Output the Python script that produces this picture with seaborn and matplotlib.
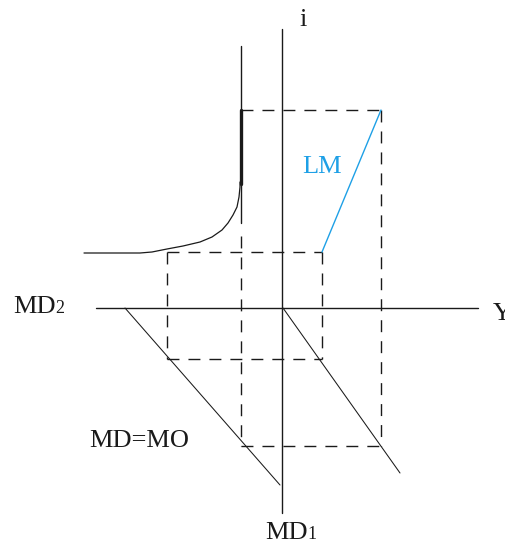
import numpy as np
import pandas as pd
import matplotlib
matplotlib.use("Agg")
import matplotlib.pyplot as plt
import seaborn as sns

# ---- data (origin at axis intersection, units in diagram units) ----
i_levels = [56, 198]          # i_low, i_high
Y_levels = [40, 99]           # Y_low, Y_high
MD2_levels = [-115, -41]      # speculative demand at i_low, i_high
MD1_levels = [-51, -138]      # transaction demand at Y_low, Y_high

# liquidity-preference curve (MD2 quadrant)
lp_x = [-198, -142, -130, -115, -99, -82, -70, -60, -54, -49, -45, -43, -42, -42]
lp_y = [55, 55, 56, 59, 62, 66, 71, 78, 85, 93, 101, 111, 121, 126]
trap_x = [-41, -41]
trap_y = [262, 85]
trap_thick_y = [198, 124]

# MD = MO line and MD1 line
mdmo_x = [-157, -2]
mdmo_y = [0, -177]
md1_x = [1, 118]
md1_y = [0, -165]

# LM curve
lm_x = [Y_levels[0], Y_levels[1]]
lm_y = [i_levels[0], i_levels[1]]

# axes extents
vaxis_y = [279, -205]
haxis_x = [-186, 196]

sns.set_theme(style="white")
plt.rcParams['font.family'] = ['Liberation Serif', 'DejaVu Serif']

fig = plt.figure(figsize=(5.05, 5.48), dpi=100)
ax = fig.add_axes([0, 0, 1, 1])
ax.set_xlim(-282, 223)
ax.set_ylim(-240, 308)
ax.axis("off")

black = "#1a1a1a"
dash = (0, (8.6, 6.5))

def seg(xs, ys, **kw):
    sns.lineplot(x=xs, y=ys, sort=False, estimator=None, ax=ax, **kw)

# axes
seg([0, 0], vaxis_y, color=black, linewidth=1.0)
seg(haxis_x, [0, 0], color=black, linewidth=1.0)

# liquidity preference
seg(lp_x, lp_y, color=black, linewidth=0.9)
seg(trap_x, trap_y, color=black, linewidth=1.0)
seg(trap_x, trap_thick_y, color=black, linewidth=2.4)

# diagonals
seg(mdmo_x, mdmo_y, color=black, linewidth=0.75)
seg(md1_x, md1_y, color=black, linewidth=0.75)

# dashed guides
seg([MD2_levels[1], Y_levels[1]], [i_levels[1], i_levels[1]], color=black, linewidth=1.0, linestyle=dash)
seg([Y_levels[1], Y_levels[1]], [i_levels[1], MD1_levels[1]], color=black, linewidth=1.0, linestyle=dash)
seg([MD2_levels[0], Y_levels[0]], [i_levels[0], i_levels[0]], color=black, linewidth=1.0, linestyle=dash)
seg([MD2_levels[0], MD2_levels[0]], [i_levels[0], MD1_levels[0]], color=black, linewidth=1.0, linestyle=dash)
seg([Y_levels[0], Y_levels[0]], [i_levels[0], MD1_levels[0]], color=black, linewidth=1.0, linestyle=dash)
seg([MD2_levels[0], Y_levels[0]], [MD1_levels[0], MD1_levels[0]], color=black, linewidth=1.0, linestyle=dash)
seg([MD2_levels[1], MD2_levels[1]], [72, MD1_levels[1]], color=black, linewidth=1.0, linestyle=dash)
seg([MD2_levels[1], Y_levels[1]], [MD1_levels[1], MD1_levels[1]], color=black, linewidth=1.0, linestyle=dash)

# LM
seg(lm_x, lm_y, color="#1ea0e6", linewidth=1.0)

fs = 19
ax.text(21, 282, "i", fontsize=fs, ha="center", va="baseline", color=black)
ax.text(211, -12, "Y", fontsize=fs, ha="left", va="baseline", color=black)
ax.text(-269, -5, "MD", fontsize=fs, ha="left", va="baseline", color=black)
ax.text(-227, -5, "2", fontsize=13, ha="left", va="baseline", color=black)
ax.text(-17, -231, "MD", fontsize=fs, ha="left", va="baseline", color=black)
ax.text(25, -231, "1", fontsize=13, ha="left", va="baseline", color=black)
ax.text(-193, -139, "MD=MO", fontsize=fs, ha="left", va="baseline", color=black)
ax.text(20, 135, "LM", fontsize=fs, ha="left", va="baseline", color="#1ea0e6")

fig.savefig("out.png", dpi=100)
